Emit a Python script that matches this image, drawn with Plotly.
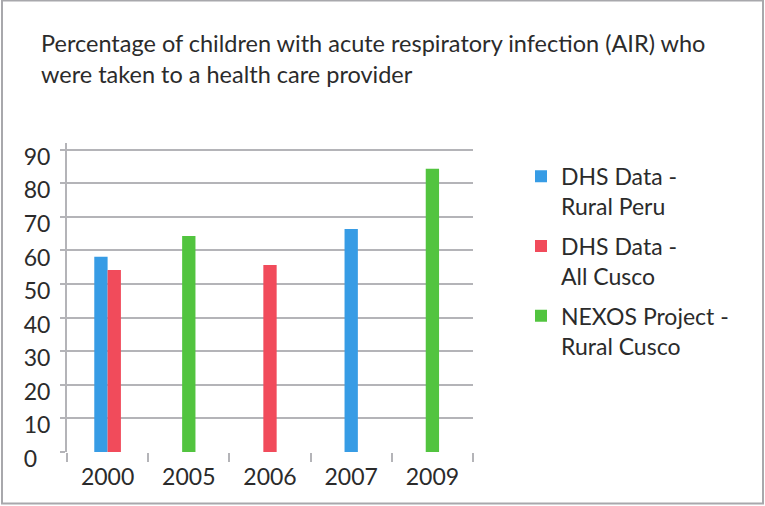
import plotly.graph_objects as go

# ---------------------------------------------------------------
# Data
# ---------------------------------------------------------------
years = ["2000", "2005", "2006", "2007", "2009"]
rural_peru = [58.1, None, None, 66.4, None]   # DHS Data - Rural Peru
all_cusco = [54.2, None, 55.7, None, None]    # DHS Data - All Cusco
nexos = [None, 64.3, None, None, 84.3]        # NEXOS Project - Rural Cusco

series_names = ["DHS Data -<br>Rural Peru", "DHS Data -<br>All Cusco", "NEXOS Project -<br>Rural Cusco"]
series_values = [rural_peru, all_cusco, nexos]
series_colors = ["#379ce5", "#f14b5b", "#52c43f"]

y_ticks = list(range(0, 100, 10))
# pad the single digit with a figure space so the labels line up on the left
y_ticktext = [f"{v}" if v >= 10 else f"{v}\u2007" for v in y_ticks]

# ---------------------------------------------------------------
# Geometry helpers (pixel layout of the 765x506 picture)
# ---------------------------------------------------------------
W, H = 765, 506
L, R, T, B = 67, 473, 143.3, 451.7   # plot area in pixels
pw, ph = R - L, B - T

def px_x(x):
    return (x - L) / pw

def px_y(y):
    return (B - y) / ph

BAR_W = 0.164
FONT = "Lato, 'Open Sans', sans-serif"
TXT = "#2b2b2b"
GRID = "#b4b4b8"

# centre the bars that exist in each year
offsets = [[None] * len(years) for _ in series_values]
for i in range(len(years)):
    present = [s for s, vals in enumerate(series_values) if vals[i] is not None]
    for k, s in enumerate(present):
        offsets[s][i] = -len(present) * BAR_W / 2 + k * BAR_W

fig = go.Figure()
for name, vals, color, off in zip(series_names, series_values, series_colors, offsets):
    fig.add_bar(
        x=years, y=vals, name=name, legendgroup=name,
        marker=dict(color=color, line=dict(width=0)),
        width=BAR_W, offset=[o if o is not None else 0 for o in off],
    )

fig.update_layout(
    width=W, height=H,
    margin=dict(l=L, r=W - R, t=T, b=H - B, pad=0),
    barmode="overlay",
    paper_bgcolor="white", plot_bgcolor="white",
    font=dict(family=FONT, size=23, color=TXT),
    showlegend=True,
    legend=dict(
        x=px_x(521), xanchor="left", y=px_y(155), yanchor="top",
        font=dict(size=23, color=TXT), valign="top",
        tracegroupgap=7, bgcolor="rgba(0,0,0,0)",
    ),
    annotations=[dict(
        text="Percentage of children with acute respiratory infection (AIR) who<br>were taken to a health care provider",
        xref="paper", yref="paper", x=px_x(39), y=px_y(28),
        xanchor="left", yanchor="top", align="left", showarrow=False,
        font=dict(family=FONT, size=23.5, color=TXT),
    )],
    shapes=[dict(
        type="rect", xref="paper", yref="paper",
        x0=px_x(2), x1=px_x(763), y0=px_y(503), y1=px_y(1),
        line=dict(color="#a8a8ac", width=2), fillcolor="rgba(0,0,0,0)",
    )],
)

fig.update_xaxes(
    type="category", showgrid=False, showline=False,
    ticks="outside", tickson="boundaries", ticklen=9, tickwidth=2, tickcolor=GRID,
    tickfont=dict(size=23, color=TXT), ticklabelstandoff=9,
    zeroline=False, fixedrange=True,
)
fig.update_yaxes(
    range=[0, 92], tickvals=y_ticks, ticktext=y_ticktext,
    showgrid=True, gridcolor=GRID, gridwidth=2,
    showline=True, linecolor=GRID, linewidth=2,
    ticks="outside", ticklen=5, tickwidth=2, tickcolor=GRID,
    tickfont=dict(size=23, color=TXT), ticklabelshift=7, ticklabelstandoff=5,
    zeroline=False, fixedrange=True,
)

# the page's default 8px body margin would shift the picture inside the window
fig.write_html(
    "out.html",
    config={"displayModeBar": False},
    post_script="document.body.style.margin = '0px';",
)
